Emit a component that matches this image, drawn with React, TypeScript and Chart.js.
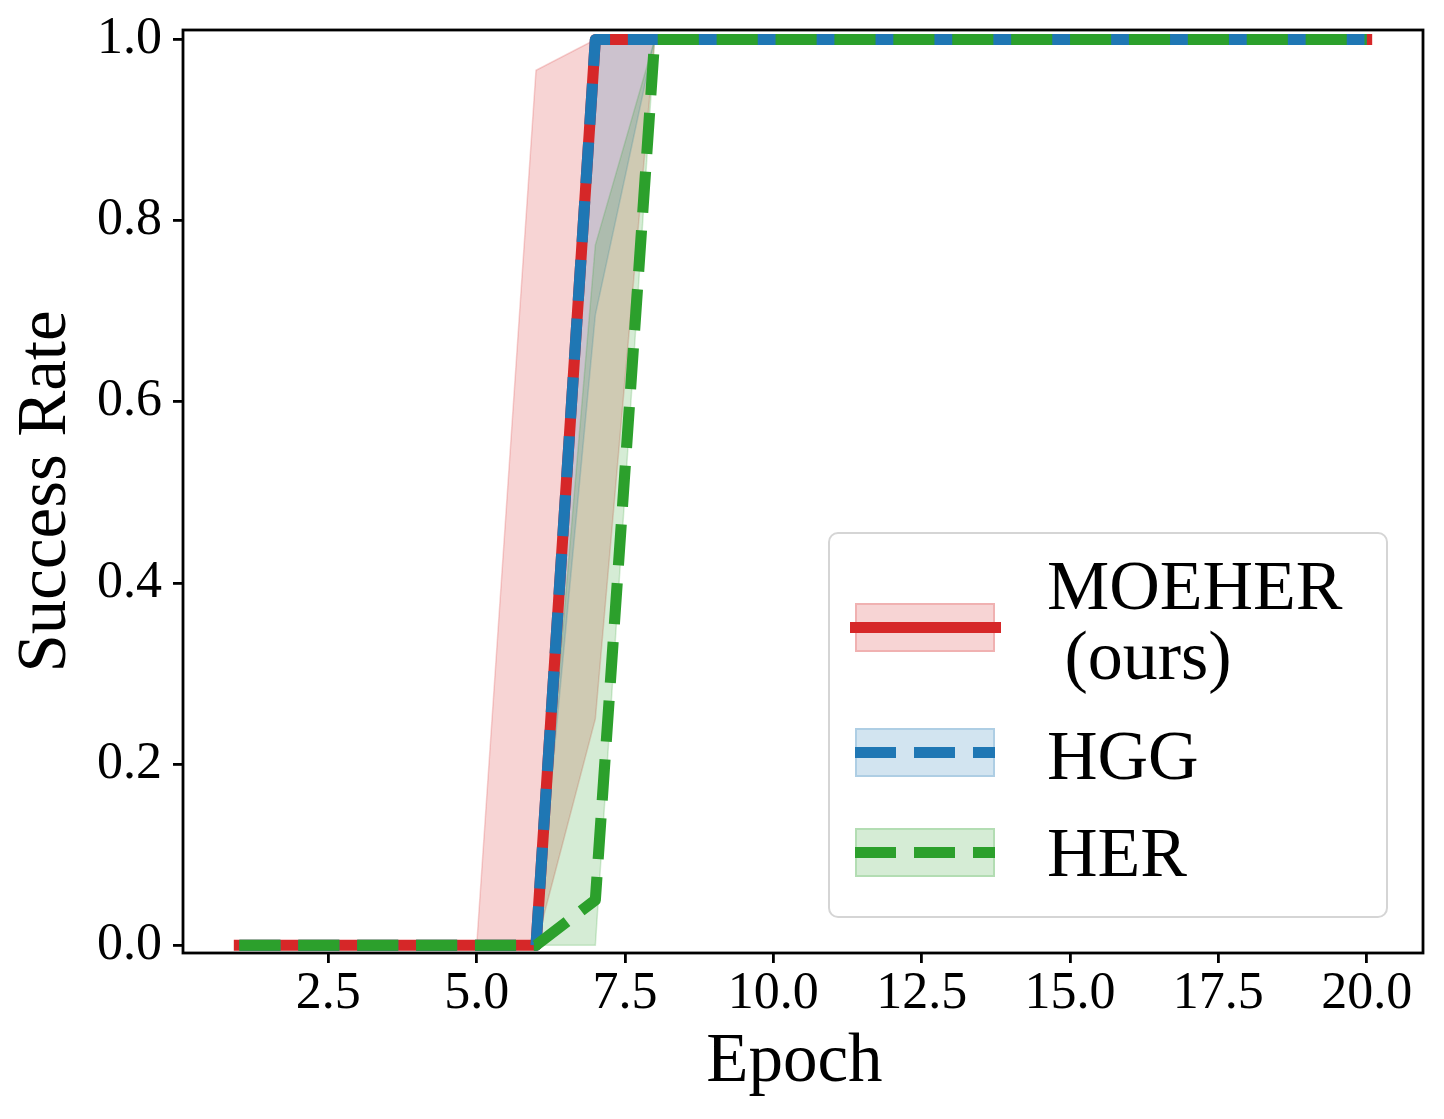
import { useEffect, useRef } from 'react';
import { Chart, registerables } from 'chart.js';

Chart.register(...registerables);

// epochs 1..20
const epochs = [1, 2, 3, 4, 5, 6, 7, 8, 9, 10, 11, 12, 13, 14, 15, 16, 17, 18, 19, 20];

const moeherMean = [0, 0, 0, 0, 0, 0, 1, 1, 1, 1, 1, 1, 1, 1, 1, 1, 1, 1, 1, 1];
const moeherLow = [0, 0, 0, 0, 0, 0, 0.25, 1, 1, 1, 1, 1, 1, 1, 1, 1, 1, 1, 1, 1];
const moeherHigh = [0, 0, 0, 0, 0, 0.966, 1, 1, 1, 1, 1, 1, 1, 1, 1, 1, 1, 1, 1, 1];

const hggMean = [0, 0, 0, 0, 0, 0, 1, 1, 1, 1, 1, 1, 1, 1, 1, 1, 1, 1, 1, 1];
const hggLow = [0, 0, 0, 0, 0, 0, 0.696, 1, 1, 1, 1, 1, 1, 1, 1, 1, 1, 1, 1, 1];
const hggHigh = [0, 0, 0, 0, 0, 0, 1, 1, 1, 1, 1, 1, 1, 1, 1, 1, 1, 1, 1, 1];

const herMean = [0, 0, 0, 0, 0, 0, 0.05, 1, 1, 1, 1, 1, 1, 1, 1, 1, 1, 1, 1, 1];
const herLow = [0, 0, 0, 0, 0, 0, 0, 1, 1, 1, 1, 1, 1, 1, 1, 1, 1, 1, 1, 1];
const herHigh = [0, 0, 0, 0, 0, 0, 0.773, 1, 1, 1, 1, 1, 1, 1, 1, 1, 1, 1, 1, 1];

const xTicks = [2.5, 5, 7.5, 10, 12.5, 15, 17.5, 20];
const yTicks = [0, 0.2, 0.4, 0.6, 0.8, 1.0];

const RED = '214,39,40';
const BLUE = '31,119,180';
const GREEN = '44,160,44';
const FONT = "'Liberation Serif', 'Times New Roman', serif";
const LW = 11.1;
const DASH = [41.1, 17.8];

const pts = (ys: number[]) => epochs.map((x, i) => ({ x, y: ys[i] }));

function band(low: number[], high: number[], rgb: string, order: number) {
  const edge = {
    borderColor: `rgba(${rgb},0.2)`,
    borderWidth: 1.5,
    pointRadius: 0,
    order,
  };
  return [
    { ...edge, label: 'low', data: pts(low), fill: false },
    { ...edge, label: 'high', data: pts(high), fill: '-1', backgroundColor: `rgba(${rgb},0.2)` },
  ];
}

const frame = {
  id: 'frame',
  afterDraw(chart: any) {
    const { ctx, chartArea: a } = chart;
    ctx.save();
    ctx.strokeStyle = '#000';
    ctx.lineWidth = 2.8;
    ctx.strokeRect(a.left, a.top, a.right - a.left, a.bottom - a.top);
    ctx.restore();
  },
};

const legendRows = [
  { text: 'MOEHER\n (ours)', rgb: RED, dashed: false, patchTop: 603, textTop: 551 },
  { text: 'HGG', rgb: BLUE, dashed: true, patchTop: 728, textTop: 721 },
  { text: 'HER', rgb: GREEN, dashed: true, patchTop: 828, textTop: 818 },
];

export default function App() {
  const canvasRef = useRef<HTMLCanvasElement>(null);

  useEffect(() => {
    if (!canvasRef.current) return;
    const gridOpts = {
      display: true,
      drawOnChartArea: false,
      drawTicks: true,
      tickLength: 10,
      tickWidth: 2.8,
      tickColor: '#000',
      color: '#000',
      lineWidth: 2.8,
    };
    const chart = new Chart(canvasRef.current, {
      type: 'line',
      data: {
        datasets: [
          ...band(moeherLow, moeherHigh, RED, 12),
          ...band(hggLow, hggHigh, BLUE, 11),
          ...band(herLow, herHigh, GREEN, 10),
          {
            label: 'MOEHER (ours)',
            data: pts(moeherMean),
            borderColor: `rgb(${RED})`,
            borderWidth: LW,
            borderCapStyle: 'square',
            borderJoinStyle: 'round',
            fill: false,
            order: 2,
          },
          {
            label: 'HGG',
            data: pts(hggMean),
            borderColor: `rgb(${BLUE})`,
            borderWidth: LW,
            borderDash: DASH,
            borderCapStyle: 'butt',
            borderJoinStyle: 'round',
            fill: false,
            order: 1,
          },
          {
            label: 'HER',
            data: pts(herMean),
            borderColor: `rgb(${GREEN})`,
            borderWidth: LW,
            borderDash: DASH,
            borderCapStyle: 'butt',
            borderJoinStyle: 'round',
            fill: false,
            order: 0,
          },
        ] as any,
      },
      options: {
        responsive: false,
        animation: false,
        devicePixelRatio: 1,
        layout: { padding: { top: 30, right: 21, bottom: 0, left: 0 } },
        elements: { point: { radius: 0 }, line: { tension: 0 } },
        plugins: { legend: { display: false }, tooltip: { enabled: false } },
        scales: {
          x: {
            type: 'linear',
            min: 0.05,
            max: 20.95,
            afterBuildTicks: (s: any) => {
              s.ticks = xTicks.map((v) => ({ value: v }));
            },
            afterFit: (s: any) => {
              s.height = 166;
              s.paddingLeft = 0;
              s.paddingRight = 0;
            },
            grid: gridOpts,
            border: { display: false },
            ticks: {
              autoSkip: false,
              maxRotation: 0,
              padding: 5,
              color: '#000',
              font: { family: FONT, size: 52, lineHeight: 1 },
              callback: (v: any) => Number(v).toFixed(1),
            },
            title: {
              display: true,
              text: 'Epoch ',
              color: '#000',
              font: { family: FONT, size: 69, lineHeight: 1 },
              padding: { top: 0, bottom: 22 },
            },
          },
          y: {
            type: 'linear',
            min: -0.0085,
            max: 1.0105,
            afterBuildTicks: (s: any) => {
              s.ticks = yTicks.map((v) => ({ value: v }));
            },
            afterFit: (s: any) => {
              s.width = 183;
              s.paddingTop = 0;
              s.paddingBottom = 0;
            },
            grid: gridOpts,
            border: { display: false },
            ticks: {
              padding: 11,
              color: '#000',
              font: { family: FONT, size: 52, lineHeight: 1 },
              callback: (v: any) => Number(v).toFixed(1),
            },
            title: {
              display: true,
              text: 'Success Rate',
              color: '#000',
              font: { family: FONT, size: 69, lineHeight: 1 },
              padding: { top: 12, bottom: 0 },
            },
          },
        },
      } as any,
      plugins: [frame],
    });
    return () => chart.destroy();
  }, []);

  return (
    <div style={{ position: 'absolute', left: 0, top: 0, width: 1444, height: 1119, background: '#fff' }}>
      <canvas ref={canvasRef} width={1444} height={1119} style={{ display: 'block' }} />
      <div
        style={{
          position: 'absolute',
          left: 828,
          top: 532,
          width: 556,
          height: 382,
          border: '2px solid #d5d5d5',
          borderRadius: 10,
          background: 'rgba(255,255,255,0.8)',
        }}
      />
      {legendRows.map((r) => (
        <div key={r.text}>
          <div
            style={{
              position: 'absolute',
              left: 855,
              top: r.patchTop,
              width: 136,
              height: 45,
              background: `rgba(${r.rgb},0.2)`,
              border: `2px solid rgba(${r.rgb},0.2)`,
            }}
          />
          <div
            style={{
              position: 'absolute',
              left: r.dashed ? 855 : 850,
              top: r.patchTop + 24.5 - LW / 2,
              width: r.dashed ? 140 : 151,
              height: LW,
              background: r.dashed
                ? `repeating-linear-gradient(to right, rgb(${r.rgb}) 0px, rgb(${r.rgb}) 41.1px, transparent 41.1px, transparent 58.9px)`
                : `rgb(${r.rgb})`,
            }}
          />
          <div
            style={{
              position: 'absolute',
              left: 1047,
              top: r.textTop,
              fontFamily: FONT,
              fontSize: 70,
              lineHeight: 1,
              whiteSpace: 'pre',
              color: '#000',
            }}
          >
            {r.text}
          </div>
        </div>
      ))}
    </div>
  );
}
